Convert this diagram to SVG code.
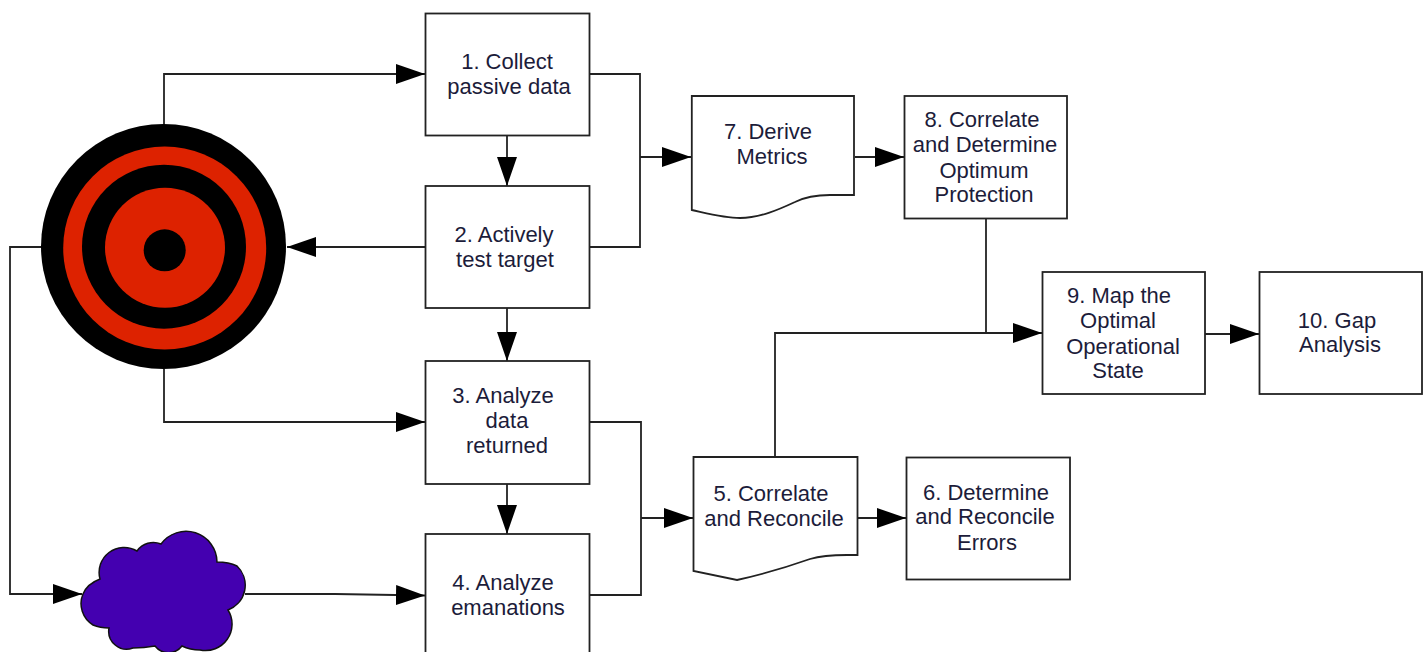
<svg xmlns="http://www.w3.org/2000/svg" width="1428" height="652" viewBox="0 0 1428 652">
<style>
.b{fill:#fff;stroke:#222;stroke-width:1.800}
.c{fill:none;stroke:#222;stroke-width:1.800}
text{font-family:"Liberation Sans",Arial,sans-serif;font-size:22px;fill:#1c1c3a;text-anchor:middle}
</style>
<defs>
<marker id="a" markerUnits="userSpaceOnUse" markerWidth="30" markerHeight="22" refX="29" refY="11" orient="auto"><path d="M0 1L29 11L0 21Z" fill="#000"/></marker>
</defs>
<rect width="1428" height="652" fill="#fff"/>
<g id="connectors" class="conn">
<path class="c" d="M164 125V74H425" marker-end="url(#a)"/>
<path class="c" d="M164 369V422H425" marker-end="url(#a)"/>
<path class="c" d="M425 247H287" marker-end="url(#a)"/>
<path class="c" d="M507 136V186" marker-end="url(#a)"/>
<path class="c" d="M507 308V361" marker-end="url(#a)"/>
<path class="c" d="M507 484V534" marker-end="url(#a)"/>
<path class="c" d="M590 74H640V247H590"/>
<path class="c" d="M640 157H691" marker-end="url(#a)"/>
<path class="c" d="M590 422H641V595H590"/>
<path class="c" d="M641 518H693" marker-end="url(#a)"/>
<path class="c" d="M855 157H904" marker-end="url(#a)"/>
<path class="c" d="M858 518H906" marker-end="url(#a)"/>
<path class="c" d="M42 247H10V594H82" marker-end="url(#a)"/>
<path class="c" d="M245 594H335L425 595.500" marker-end="url(#a)"/>
<path class="c" d="M986 219V333"/>
<path class="c" d="M775 457V333H1042" marker-end="url(#a)"/>
<path class="c" d="M1205 334H1259" marker-end="url(#a)"/>
</g>
<g id="target">
<circle cx="163.500" cy="246.500" r="122.500" fill="#000"/>
<circle cx="164.700" cy="248" r="101.500" fill="#dd2200"/>
<circle cx="164" cy="246.700" r="82" fill="#000"/>
<circle cx="165" cy="247.700" r="60" fill="#dd2200"/>
<circle cx="164.700" cy="250.300" r="21" fill="#000"/>
</g>
<g id="cloud">
<path d="M83 594Q87 584 100 579A25 25 0 0 1 137 551A20 20 0 0 1 161 544A31 31 0 0 1 217 562Q229 562 237 566A26.500 26.500 0 0 1 228 610A26.500 26.500 0 0 1 200 650Q190 650 182 646A17 17 0 0 1 155 646Q144 648 133 648A18 18 0 0 1 109 628Q100 628 93 625A25 25 0 0 1 83 594Z" fill="#4400b0" stroke="#111" stroke-width="1.500"/>
</g>
<g id="n1"><rect class="b" x="425.500" y="13.500" width="164" height="122"/><text x="507" y="69">1. Collect</text><text x="509" y="94">passive data</text></g>
<g id="n2"><rect class="b" x="425.500" y="186" width="164" height="122"/><text x="504" y="242">2. Actively</text><text x="505" y="267">test target</text></g>
<g id="n3"><rect class="b" x="425.500" y="361" width="164" height="123"/><text x="503" y="403">3. Analyze</text><text x="507" y="428">data</text><text x="507" y="453">returned</text></g>
<g id="n4"><rect class="b" x="425.500" y="534" width="164" height="130"/><text x="503" y="590">4. Analyze</text><text x="508" y="615">emanations</text></g>
<g id="n5"><path class="b" d="M693.500 457H857.500V555H847C830 555 820 556 810 559C790 566 760 575 737 580L693.500 571Z"/><text x="771" y="501">5. Correlate</text><text x="774" y="526">and Reconcile</text></g>
<g id="n6"><rect class="b" x="906.500" y="457.500" width="163.500" height="122"/><text x="986" y="500">6. Determine</text><text x="985" y="524">and Reconcile</text><text x="987" y="550">Errors</text></g>
<g id="n7"><path class="b" d="M691.800 96H854V195H830C815 195 805 197 795 202C780 209 760 218 740 218C725 218 710 214 691.800 210Z"/><text x="768" y="139">7. Derive</text><text x="772" y="164">Metrics</text></g>
<g id="n8"><rect class="b" x="904.500" y="96" width="162.500" height="122.500"/><text x="982" y="127">8. Correlate</text><text x="985" y="152">and Determine</text><text x="984" y="178">Optimum</text><text x="984" y="202">Protection</text></g>
<g id="n9"><rect class="b" x="1042.500" y="272" width="162.500" height="122"/><text x="1119" y="303">9. Map the</text><text x="1118" y="328">Optimal</text><text x="1123" y="354">Operational</text><text x="1118" y="378">State</text></g>
<g id="n10"><rect class="b" x="1259.500" y="272" width="162.500" height="122"/><text x="1337" y="328">10. Gap</text><text x="1340" y="352">Analysis</text></g>
</svg>
